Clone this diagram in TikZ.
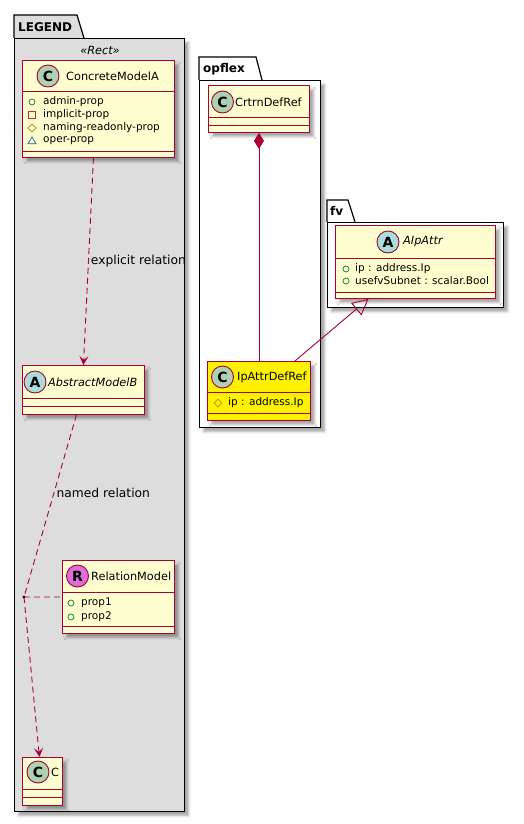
\documentclass[tikz,border=0pt]{standalone}
\usepackage{fontspec}
\setmainfont{DejaVu Sans}
\usetikzlibrary{shadows.blur,arrows.meta,shapes.geometric}
\definecolor{umlred}{HTML}{A80036}
\definecolor{umlfill}{HTML}{FEFECE}
\definecolor{pkgfill}{HTML}{DDDDDD}
\definecolor{cgreen}{HTML}{ADD1B2}
\definecolor{ablue}{HTML}{A9DCDF}
\definecolor{rpink}{HTML}{DA70D6}
\definecolor{visgreen}{HTML}{038048}
\definecolor{visred}{HTML}{C82930}
\definecolor{visgold}{HTML}{B38D22}
\definecolor{visblue}{HTML}{1963A0}
\tikzset{
  shad/.style={blur shadow={shadow xshift=4pt, shadow yshift=-4pt, shadow blur radius=2.5pt, shadow opacity=35}},
  pkgbody/.style={draw=black, line width=1.2pt, rectangle, inner sep=0pt, anchor=north west, shad},
  pkgtab/.style={draw=black, line width=1.2pt},
  pkgtitle/.style={font=\bfseries\fontsize{12}{14}\selectfont, anchor=west, inner sep=0pt},
  classbox/.style={draw=umlred, fill=umlfill, line width=0.9pt, rectangle, inner sep=0pt, anchor=north west, shad},
  sepline/.style={draw=umlred, line width=0.9pt},
  letter/.style={circle, draw=umlred, line width=0.9pt, minimum size=22pt, inner sep=0pt, font=\bfseries\fontsize{14}{14}\selectfont},
  cname/.style={anchor=west, inner sep=0pt, font=\fontsize{11.3}{13}\selectfont},
  aname/.style={cname, font=\itshape\fontsize{11.3}{13}\selectfont},
  attr/.style={anchor=west, inner sep=0pt, font=\fontsize{10.5}{12}\selectfont},
  pubicon/.style={circle, draw=visgreen, line width=0.7pt, minimum size=6pt, inner sep=0pt},
  privicon/.style={rectangle, draw=visred, line width=0.7pt, minimum size=6.5pt, inner sep=0pt},
  proticon/.style={diamond, draw=visgold, line width=0.7pt, minimum width=8pt, minimum height=8pt, inner sep=0pt},
  pkgicon/.style={regular polygon, regular polygon sides=3, draw=visblue, line width=0.7pt, minimum size=9pt, inner sep=0pt},
  dep/.style={umlred, line width=0.9pt, dash pattern=on 6pt off 4pt, -{Stealth[length=9pt,width=9pt,inset=4pt]}},
  depline/.style={umlred, line width=0.9pt, dash pattern=on 6pt off 4pt},
  assoc/.style={umlred, line width=0.9pt},
  lbl/.style={text=black, inner sep=2pt, font=\fontsize{12.3}{14}\selectfont}
}
\begin{document}
\begin{tikzpicture}[x=1pt,y=-1pt]
\useasboundingbox (0,0) rectangle (524,824);

% ---------- LEGEND package ----------
\draw[pkgtab, fill=pkgfill] (14,38) -- (14,15) -- (77,15) -- (84,38);
\node[pkgbody, fill=pkgfill, minimum width=170pt, minimum height=773pt] (legend) at (14,38) {};
\node[pkgtitle] (legendT) at (18,27) {LEGEND};
\node[font=\itshape\fontsize{11.3}{13}\selectfont, inner sep=0pt] (stereo) at (100,50) {«Rect»};

% ConcreteModelA
\node[classbox, minimum width=152pt, minimum height=97pt] (cma) at (22,60) {};
\draw[sepline] (22,91) -- (174,91);
\draw[sepline] (22,151) -- (174,151);
\node[letter, fill=cgreen] (cmaI) at (48,76) {C};
\node[cname] (cmaN) at (66,76) {ConcreteModelA};
\node[pubicon] (cmaV1) at (32,102) {};
\node[attr] (cmaA1) at (43,102) {admin-prop};
\node[privicon] (cmaV2) at (32,115) {};
\node[attr] (cmaA2) at (43,115) {implicit-prop};
\node[proticon] (cmaV3) at (32,128) {};
\node[attr] (cmaA3) at (43,128) {naming-readonly-prop};
\node[pkgicon] (cmaV4) at (32,141.5) {};
\node[attr] (cmaA4) at (43,141) {oper-prop};

% AbstractModelB
\node[classbox, minimum width=122pt, minimum height=49pt] (abm) at (22,365) {};
\draw[sepline] (22,398) -- (144,398);
\draw[sepline] (22,406) -- (144,406);
\node[letter, fill=ablue] (abmI) at (35,382) {A};
\node[aname] (abmN) at (48,382) {AbstractModelB};

% RelationModel
\node[classbox, minimum width=112pt, minimum height=73pt] (rm) at (62,560) {};
\draw[sepline] (62,592) -- (174,592);
\draw[sepline] (62,626) -- (174,626);
\node[letter, fill=rpink] (rmI) at (77.5,576) {R};
\node[cname] (rmN) at (91,576) {RelationModel};
\node[pubicon] (rmV1) at (71,603) {};
\node[attr] (rmA1) at (81,603) {prop1};
\node[pubicon] (rmV2) at (71,617) {};
\node[attr] (rmA2) at (81,617) {prop2};

% C
\node[classbox, minimum width=40pt, minimum height=48pt] (c) at (22,757) {};
\draw[sepline] (22,789) -- (62,789);
\draw[sepline] (22,797) -- (62,797);
\node[letter, fill=cgreen] (cI) at (38,772) {C};
\node[cname] (cN) at (51,772) {C};

% junction
\node[circle, fill=black, minimum size=3.2pt, inner sep=0pt] (jn) at (24,597) {};

% ---------- opflex package ----------
\draw[pkgtab, fill=white] (199,80) -- (199,57) -- (256,57) -- (262,80);
\node[pkgbody, fill=white, minimum width=121pt, minimum height=347pt] (opflex) at (199,80) {};
\node[pkgtitle] (opflexT) at (203,69) {opflex};

% CrtrnDefRef
\node[classbox, minimum width=101pt, minimum height=47pt] (crt) at (208,85) {};
\draw[sepline] (208,117) -- (309,117);
\draw[sepline] (208,125) -- (309,125);
\node[letter, fill=cgreen] (crtI) at (222.5,102) {C};
\node[cname] (crtN) at (235,102) {CrtrnDefRef};

% IpAttrDefRef
\node[classbox, fill=yellow, minimum width=103pt, minimum height=59pt] (ipa) at (207,361) {};
\draw[sepline] (207,392) -- (310,392);
\draw[sepline] (207,413) -- (310,413);
\node[letter, fill=cgreen] (ipaI) at (222.5,377) {C};
\node[cname] (ipaN) at (237,377) {IpAttrDefRef};
\node[proticon] (ipaV1) at (218,403) {};
\node[attr] (ipaA1) at (228,403) {ip : address.Ip};

% ---------- fv package ----------
\draw[pkgtab, fill=white] (327,222) -- (327,200) -- (348,200) -- (355,222);
\node[pkgbody, fill=white, minimum width=176pt, minimum height=85pt] (fv) at (327,222) {};
\node[pkgtitle] (fvT) at (330,211) {fv};

% AIpAttr
\node[classbox, minimum width=160pt, minimum height=73pt] (aip) at (335,225) {};
\draw[sepline] (335,258) -- (495,258);
\draw[sepline] (335,292) -- (495,292);
\node[letter, fill=ablue] (aipI) at (388,242) {A};
\node[aname] (aipN) at (403,242) {AIpAttr};
\node[pubicon] (aipV1) at (346,269) {};
\node[attr] (aipA1) at (355,269) {ip : address.Ip};
\node[pubicon] (aipV2) at (346,281) {};
\node[attr] (aipA2) at (355,281) {usefvSubnet : scalar.Bool};

% ---------- connectors ----------
\draw[dep] ([xshift=-5pt]cma.south) -- (abm.north)
  node[lbl, pos=0.5, right] (explL) {explicit relation};
\draw[depline] ([xshift=-7pt]abm.south) -- (jn.center)
  node[lbl, pos=0.426, right] (namedL) {named relation};
\draw[dep] (jn.center) -- ([xshift=-3pt]c.north);
\draw[depline] (jn.center) -- (rm.west);
\draw[assoc, {Diamond[length=16pt,width=10pt]}-] (crt.south) -- (ipa.north);
\draw[assoc, -{Triangle[open,length=16pt,width=16pt]}] ([xshift=36pt]ipa.north) -- ([xshift=-47pt]aip.south);
\end{tikzpicture}
\end{document}
